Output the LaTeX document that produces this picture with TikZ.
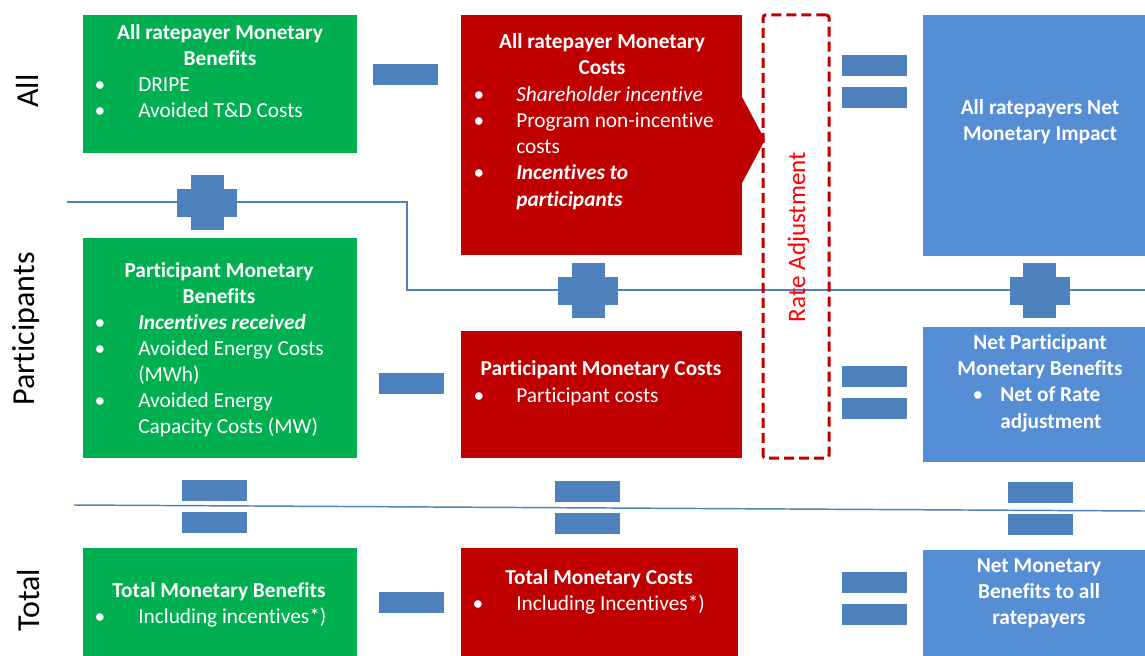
\documentclass[tikz,border=0pt]{standalone}
\usepackage{fontspec}
\setmainfont{Carlito}[Ligatures={NoCommon}]
\usetikzlibrary{fit}
\definecolor{gfill}{HTML}{00B050}
\definecolor{rfill}{HTML}{C00000}
\definecolor{bfill}{HTML}{558ED5}
\definecolor{symc}{HTML}{4F81BD}
\definecolor{ratered}{HTML}{FF0000}
\begin{document}
\begin{tikzpicture}[x=0.75pt,y=-0.75pt,
  box/.style={inner sep=0pt, outer sep=0pt, draw=none},
  gbox/.style={box, fill=gfill},
  rbox/.style={box, fill=rfill},
  bbox/.style={box, fill=bfill},
  tx/.style={text=white, inner sep=0pt, anchor=base west, font=\fontsize{16}{19.7}\selectfont},
  txi/.style={tx, font=\fontsize{16}{19.7}\selectfont\itshape},
  txbi/.style={tx, font=\fontsize{16}{19.7}\selectfont\bfseries\itshape},
  txb/.style={tx, font=\fontsize{16}{19.7}\selectfont\bfseries},
  ttl/.style={tx, anchor=base, font=\fontsize{16}{19.7}\selectfont\bfseries},
  bul/.style={tx, anchor=base},
  rowlab/.style={inner sep=0pt, anchor=base, rotate=90, text=black, font=\fontsize{24}{28}\selectfont},
  ratelab/.style={inner sep=0pt, anchor=base, rotate=90, text=ratered, font=\fontsize{18.8}{22}\selectfont},
  ratebox/.style={draw=rfill, line width=2.25pt, dash pattern=on 7.5pt off 3.75pt, rounded corners=2pt, inner sep=0pt, outer sep=0pt, fill=none},
  ln/.style={draw=symc, line width=1.1pt},
  symfill/.style={fill=symc},
  plussign/.pic={\fill[symfill] (-16.5,-27.5) rectangle (16.5,27.5); \fill[symfill] (-30,-14) rectangle (30,14);},
  minussign/.pic={\fill[symfill] (-32.5,-10.5) rectangle (32.5,10.5);},
  equalsign/.pic={\fill[symfill] (-32.5,-26.5) rectangle (32.5,-5.5); \fill[symfill] (-32.5,5.5) rectangle (32.5,26.5);}
]
\useasboundingbox (0,0) rectangle (1145,656);

% ---------- row labels
\node[rowlab] (labAll) at (38,91) {All};
\node[rowlab] (labPart) at (34,329) {Participants};
\node[rowlab] (labTot) at (39,600) {Total};

% ---------- boxes
\node[gbox, fit={(83,15)(357,153)}] (g1) {};
\node[rbox, fit={(461,15)(742,255)}] (r1) {};
\fill[rfill] (741,95) -- (765,140) -- (741,185) -- cycle;
\node[bbox, fit={(923,15)(1145,256)}] (b1) {};
\node[gbox, fit={(83,238)(357,458)}] (g2) {};
\node[rbox, fit={(461,331)(742,458)}] (r2) {};
\node[bbox, fit={(923,327)(1145,462)}] (b2) {};
\node[gbox, fit={(83,548)(357,656)}] (g3) {};
\node[rbox, fit={(461,548)(738,656)}] (r3) {};
\node[bbox, fit={(923,550)(1145,656)}] (b3) {};

% ---------- separator lines
\draw[ln] (67,202) -- (407,202) -- (407,290) -- (1145,290);
\draw[ln] (74,505) -- (1145,511);

% ---------- rate adjustment
\node[ratebox, fit={(763,15)(829,458)}] (rate) {};
\node[ratelab] (rateT) at (805,237) {Rate Adjustment};

% ---------- signs
\pic at (405.5,74.5) {minussign};
\pic at (411.5,383.5) {minussign};
\pic at (411.5,602.5) {minussign};
\pic at (874,82) {equalsign};
\pic at (874,392.5) {equalsign};
\pic at (874,598) {equalsign};
\pic at (214.5,506.5) {equalsign};
\pic at (587.5,507) {equalsign};
\pic at (1040.5,508.5) {equalsign};
\pic at (207,202.5) {plussign};
\pic at (588,290.5) {plussign};
\pic at (1039.5,290.5) {plussign};

% ---------- green 1
\node[ttl] (g1a) at (220,40) {All ratepayer Monetary};
\node[ttl] (g1b) at (220,66) {Benefits};
\node[bul] (g1c) at (100,92) {•};
\node[tx]  (g1d) at (138,92) {DRIPE};
\node[bul] (g1e) at (100,118) {•};
\node[tx]  (g1f) at (138,118) {Avoided T\&D Costs};

% ---------- red 1
\node[ttl] (r1a) at (602,49) {All ratepayer Monetary};
\node[ttl] (r1b) at (602,75) {Costs};
\node[bul] (r1c) at (479,102) {•};
\node[txi] (r1d) at (516,102) {Shareholder incentive};
\node[bul] (r1e) at (479,128) {•};
\node[tx]  (r1f) at (516,128) {Program non-incentive};
\node[tx]  (r1g) at (516,154) {costs};
\node[bul] (r1h) at (479,180) {•};
\node[txbi] (r1i) at (516,180) {Incentives to};
\node[txbi] (r1j) at (516,206) {participants};

% ---------- blue 1
\node[ttl] (b1a) at (1040,115) {All ratepayers Net};
\node[ttl] (b1b) at (1040,141) {Monetary Impact};

% ---------- green 2
\node[ttl] (g2a) at (219,277) {Participant Monetary};
\node[ttl] (g2b) at (219,303) {Benefits};
\node[bul] (g2c) at (100,329) {•};
\node[txbi] (g2d) at (138,329) {Incentives received};
\node[bul] (g2e) at (100,355) {•};
\node[tx]  (g2f) at (138,355) {Avoided Energy Costs};
\node[tx]  (g2g) at (138,381) {(MWh)};
\node[bul] (g2h) at (100,407) {•};
\node[tx]  (g2i) at (138,407) {Avoided Energy};
\node[tx]  (g2j) at (138,433) {Capacity Costs (MW)};

% ---------- red 2
\node[ttl] (r2a) at (601,375) {Participant Monetary Costs};
\node[bul] (r2b) at (479,402) {•};
\node[tx]  (r2c) at (516,402) {Participant costs};

% ---------- blue 2
\node[ttl] (b2a) at (1040,349) {Net Participant};
\node[ttl] (b2b) at (1040,375) {Monetary Benefits};
\node[bul] (b2c) at (978,401) {•};
\node[txb] (b2d) at (1000,401) {Net of Rate};
\node[txb] (b2e) at (1000,428) {adjustment};

% ---------- green 3
\node[ttl] (g3a) at (219,597) {Total Monetary Benefits};
\node[bul] (g3b) at (100,623) {•};
\node[tx]  (g3c) at (138,623) {Including incentives*)};

% ---------- red 3
\node[ttl] (r3a) at (599,584) {Total Monetary Costs};
\node[bul] (r3b) at (478,610) {•};
\node[tx]  (r3c) at (516,610) {Including Incentives*)};

% ---------- blue 3
\node[ttl] (b3a) at (1039,572) {Net Monetary};
\node[ttl] (b3b) at (1039,598) {Benefits to all};
\node[ttl] (b3c) at (1039,624) {ratepayers};
\end{tikzpicture}
\end{document}
